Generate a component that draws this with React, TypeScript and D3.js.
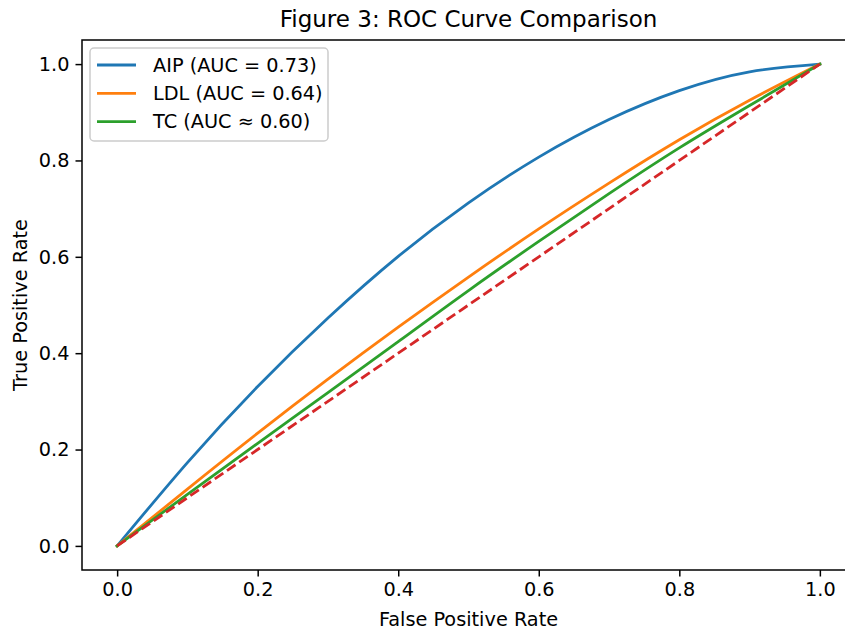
import React, { useRef, useEffect } from "react";
import * as d3 from "d3";

// false positive rate grid and the read-off true positive rates
const fpr = [0, 0.1, 0.2, 0.3, 0.4, 0.5, 0.6, 0.7, 0.8, 0.9, 1.0];
const aipTpr = [0, 0.173, 0.331, 0.473, 0.601, 0.712, 0.807, 0.885, 0.945, 0.984, 1.0];
const ldlTpr = [0, 0.118, 0.234, 0.346, 0.454, 0.558, 0.658, 0.753, 0.843, 0.925, 1.0];
const tcTpr = [0, 0.107, 0.213, 0.318, 0.424, 0.53, 0.632, 0.731, 0.826, 0.914, 1.0];
const chanceFpr = [0, 1];
const chanceTpr = [0, 1];

const seriesNames = ["AIP (AUC = 0.73)", "LDL (AUC = 0.64)", "TC (AUC ≈ 0.60)"];
const seriesColors = ["#1f77b4", "#ff7f0e", "#2ca02c"];
const tickValues = [0, 0.2, 0.4, 0.6, 0.8, 1.0];

const App = () => {
  const ref = useRef<SVGSVGElement>(null);

  useEffect(() => {
    const width = 845;
    const height = 630;
    const left = 82;
    const right = 855;
    const top = 40;
    const bottom = 570;
    const font = "'DejaVu Sans', sans-serif";
    const fs = 19.3;

    const svg = d3.select(ref.current);
    svg.selectAll("*").remove();
    svg.attr("width", width).attr("height", height);

    const x = d3.scaleLinear().domain([-0.05, 1.05]).range([left, right]);
    const y = d3.scaleLinear().domain([-0.05, 1.05]).range([bottom, top]);

    const line = d3
      .line<[number, number]>()
      .x((d) => x(d[0]))
      .y((d) => y(d[1]))
      .curve(d3.curveNatural);

    const plot = svg.append("g");
    const series = [aipTpr, ldlTpr, tcTpr];
    series.forEach((vals, i) => {
      plot
        .append("path")
        .datum(fpr.map((f, j) => [f, vals[j]] as [number, number]))
        .attr("d", line)
        .attr("fill", "none")
        .attr("stroke", seriesColors[i])
        .attr("stroke-width", 2.8)
        .attr("stroke-linecap", "square");
    });

    // chance line
    plot
      .append("path")
      .datum(chanceFpr.map((f, j) => [f, chanceTpr[j]] as [number, number]))
      .attr("d", d3.line<[number, number]>().x((d) => x(d[0])).y((d) => y(d[1])))
      .attr("fill", "none")
      .attr("stroke", "#d62728")
      .attr("stroke-width", 2.8)
      .attr("stroke-dasharray", "10.3,4.5");

    // axes
    const xAxis = svg
      .append("g")
      .attr("transform", `translate(0,${bottom})`)
      .call(d3.axisBottom(x).tickValues(tickValues).tickFormat(d3.format(".1f")).tickSize(6.5).tickPadding(6));
    const yAxis = svg
      .append("g")
      .attr("transform", `translate(${left},0)`)
      .call(d3.axisLeft(y).tickValues(tickValues).tickFormat(d3.format(".1f")).tickSize(6.5).tickPadding(6));

    [xAxis, yAxis].forEach((a) => {
      a.select(".domain").remove();
      a.selectAll("line").attr("stroke", "#000").attr("stroke-width", 1.5);
      a.selectAll("text").attr("font-family", font).attr("font-size", fs).attr("fill", "#000");
    });

    // frame
    svg
      .append("rect")
      .attr("x", left)
      .attr("y", top)
      .attr("width", right - left)
      .attr("height", bottom - top)
      .attr("fill", "none")
      .attr("stroke", "#000")
      .attr("stroke-width", 1.5);

    svg
      .append("text")
      .attr("x", (left + right) / 2)
      .attr("y", 19)
      .attr("text-anchor", "middle")
      .attr("dominant-baseline", "central")
      .attr("font-family", font)
      .attr("font-size", 23)
      .text("Figure 3: ROC Curve Comparison");

    svg
      .append("text")
      .attr("x", (left + right) / 2)
      .attr("y", 619)
      .attr("text-anchor", "middle")
      .attr("dominant-baseline", "central")
      .attr("font-family", font)
      .attr("font-size", fs)
      .text("False Positive Rate");

    svg
      .append("text")
      .attr("transform", `translate(20,${(top + bottom) / 2}) rotate(-90)`)
      .attr("text-anchor", "middle")
      .attr("dominant-baseline", "central")
      .attr("font-family", font)
      .attr("font-size", fs)
      .text("True Positive Rate");

    // legend
    const legend = svg.append("g");
    legend
      .append("rect")
      .attr("x", 90)
      .attr("y", 48)
      .attr("width", 238)
      .attr("height", 93)
      .attr("rx", 4)
      .attr("fill", "#fff")
      .attr("fill-opacity", 0.8)
      .attr("stroke", "#cccccc")
      .attr("stroke-width", 1.5);

    seriesNames.forEach((name, i) => {
      const ry = 65 + i * 28.3;
      legend
        .append("line")
        .attr("x1", 97)
        .attr("x2", 136)
        .attr("y1", ry)
        .attr("y2", ry)
        .attr("stroke", seriesColors[i])
        .attr("stroke-width", 2.8);
      legend
        .append("text")
        .attr("x", 153)
        .attr("y", ry)
        .attr("dominant-baseline", "central")
        .attr("font-family", font)
        .attr("font-size", fs)
        .text(name);
    });
  }, []);

  return (
    <div style={{ position: "absolute", left: 0, top: 0 }}>
      <svg ref={ref}></svg>
    </div>
  );
};

export default App;
